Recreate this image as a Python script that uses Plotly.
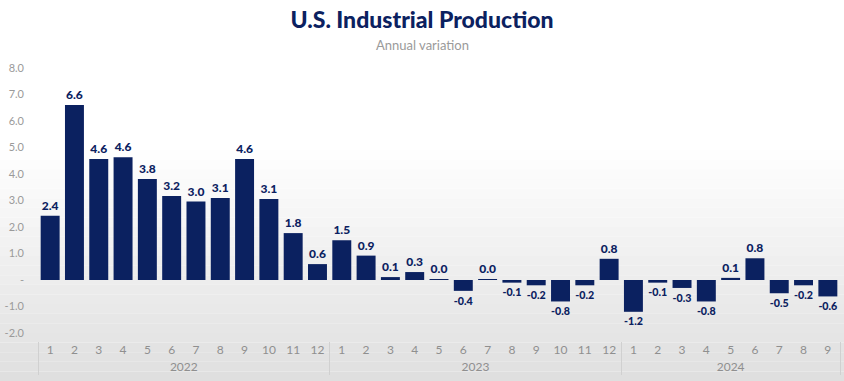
import plotly.graph_objects as go

years = ["2022"] * 12 + ["2023"] * 12 + ["2024"] * 9
months = [str(m) for m in range(1, 13)] * 2 + [str(m) for m in range(1, 10)]
values = [2.42, 6.6, 4.57, 4.63, 3.81, 3.17, 2.96, 3.09, 4.57, 3.06, 1.77, 0.6,
          1.5, 0.92, 0.11, 0.3, 0.02, -0.41, 0.01, -0.1, -0.2, -0.81, -0.2, 0.8,
          -1.2, -0.1, -0.3, -0.81, 0.08, 0.82, -0.5, -0.2, -0.62]
ytick_vals = [-2, -1, 0, 1, 2, 3, 4, 5, 6, 7, 8]
ytick_text = ["-2.0", "-1.0", "-", "1.0", "2.0", "3.0", "4.0", "5.0", "6.0", "7.0", "8.0"]

NAVY = "#0b2160"

fig = go.Figure(go.Bar(
    x=[years, months], y=values,
    marker=dict(color=NAVY, line=dict(width=0)),
    texttemplate="%{y:.1f}", textposition="outside",
    textfont=dict(family="Lato", size=12, color=NAVY, weight=900),
    cliponaxis=False,
))

# pixel layout helpers
H, top, pbot = 381, 68, 341          # plot area (paper) spans top..pbot
ybot = 333                           # pixel where y = -2
ph = pbot - top
def py2paper(py):
    return (pbot - py) / ph

# soft grey gradient background (toward the bottom)
shapes = []
n = 24
for i in range(n):
    p0 = 150 + (H - 150) * i / n
    p1 = 150 + (H - 150) * (i + 1) / n
    g = int(255 - 32 * (i + 0.5) / n)
    shapes.append(dict(type="rect", xref="paper", yref="paper", x0=-0.05, x1=1.01,
                       y0=py2paper(p1), y1=py2paper(p0),
                       fillcolor=f"rgb({g},{g},{g})", line=dict(width=0), layer="below"))

fig.update_layout(
    width=844, height=381,
    margin=dict(l=38, r=4, t=top, b=H - pbot),
    paper_bgcolor="white", plot_bgcolor="rgba(0,0,0,0)",
    shapes=shapes,
    bargap=0.22,
    showlegend=False,
    title=dict(text="U.S. Industrial Production", x=0.5, xanchor="center",
               xref="container", yref="container", y=1 - 20 / 381, yanchor="middle",
               font=dict(family="Lato", size=23, color=NAVY, weight=900)),
    annotations=[dict(text="Annual variation", xref="paper", yref="paper",
                      x=(422 - 38) / 802, y=py2paper(45), xanchor="center",
                      yanchor="middle", showarrow=False,
                      font=dict(family="Lato", size=13, color="#9a9a9a"))],
    font=dict(family="Lato"),
)
fig.update_yaxes(range=[-2, 8], tickvals=ytick_vals, ticktext=ytick_text,
                 domain=[py2paper(ybot), 1],
                 showgrid=False, zeroline=False, showline=False,
                 tickfont=dict(family="Lato", size=11, color="#9a9a9a"),
                 automargin=False, ticklabelstandoff=13)
fig.update_xaxes(type="multicategory", showgrid=False, showline=False,
                 anchor="free", position=0,
                 tickfont=dict(family="Lato", size=12, color="#8f8f8f"),
                 showdividers=True, dividercolor="#d0d0d0", dividerwidth=1,
                 automargin=False)

fig.write_html("out.html", config={"displayModeBar": False},
               post_script="document.body.style.margin='0';")
